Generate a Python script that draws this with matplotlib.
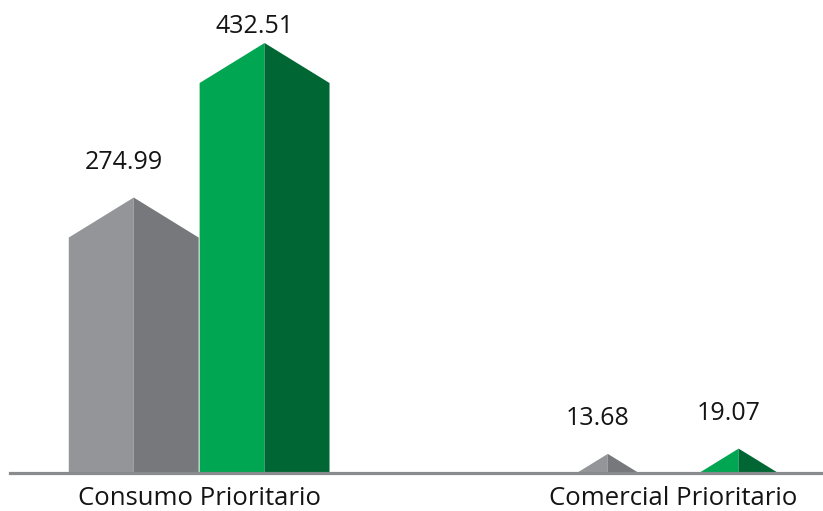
import numpy as np
import matplotlib.pyplot as plt
from matplotlib.patches import Polygon

categories = ['Consumo Prioritario', 'Comercial Prioritario']
gray_vals = [274.99, 13.68]
green_vals = [432.51, 19.07]
labels_gray = ['274.99', '13.68']
labels_green = ['432.51', '19.07']

plt.rcParams['font.family'] = ['Open Sans', 'DejaVu Sans']

hw = 0.137      # half width of a bar
off = 0.138     # offset from group centre
roof = 40.8     # height of the roof
base = -30.0    # shapes go under the axis and get clipped there
y_axis = -5.3   # where the axis line sits


def draw_bar(ax, xc, v, light, dark):
    # roof slope stays the same, small values only show the tip
    y0 = v - roof
    if y0 > base:
        w = hw
        left = [(xc - w, base), (xc - w, y0), (xc, v), (xc, base)]
        right = [(xc, base), (xc, v), (xc + w, y0), (xc + w, base)]
    else:
        w = hw * (v - base) / roof
        left = [(xc - w, base), (xc, v), (xc, base)]
        right = [(xc, base), (xc, v), (xc + w, base)]
    ax.add_patch(Polygon(left, closed=True, fc=light, ec='none', zorder=1))
    ax.add_patch(Polygon(right, closed=True, fc=dark, ec='none', zorder=1))


fig = plt.figure(figsize=(8.23, 5.11), dpi=100)
ax = fig.add_axes([10 / 823, 38.5 / 511, 813 / 823, 472.5 / 511])

x = np.arange(len(categories))
for i in range(len(categories)):
    draw_bar(ax, x[i] - off, gray_vals[i], '#939598', '#77787b')
    draw_bar(ax, x[i] + off, green_vals[i], '#00a651', '#006633')
    for xc, v, s in [(x[i] - off, gray_vals[i], labels_gray[i]),
                     (x[i] + off, green_vals[i], labels_green[i])]:
        ty = min(v + 36, 449)
        ax.text(xc - 0.021, ty, s, ha='center', va='center', fontsize=18, color='#141414')

ax.set_xlim(-0.399, 1.316)
ax.set_ylim(y_axis, y_axis + 472.5 / 0.981)
ax.set_xticks(x)
ax.set_xticklabels(categories, fontsize=18.5, color='#141414')
ax.tick_params(axis='x', length=0, pad=10)
ax.set_yticks([])
for s in ['top', 'right', 'left']:
    ax.spines[s].set_visible(False)
ax.spines['bottom'].set_color('#8a8b8d')
ax.spines['bottom'].set_linewidth(2.3)
ax.spines['bottom'].set_zorder(3)
ax.set_facecolor('none')

fig.savefig('out.png', dpi=100)
